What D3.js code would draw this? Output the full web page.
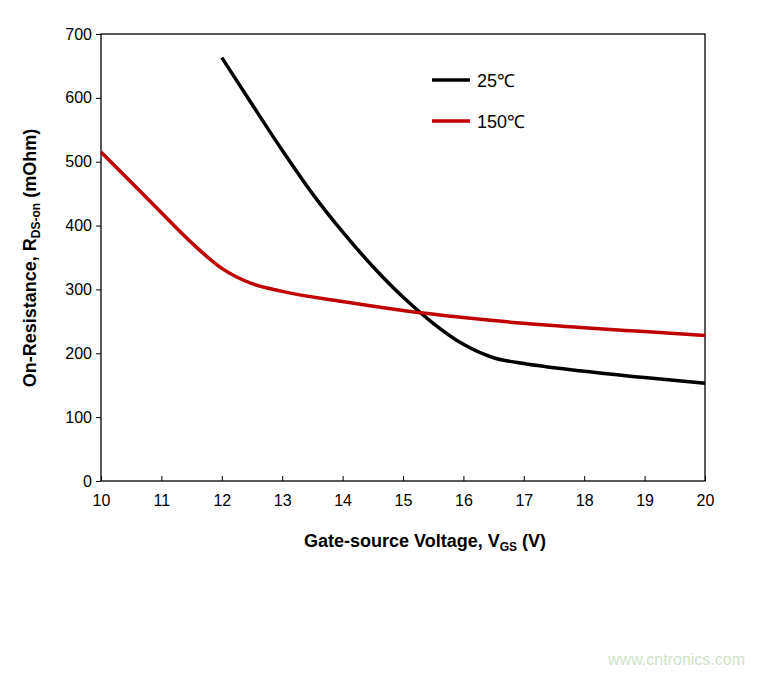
<!DOCTYPE html>
<html><head><meta charset="utf-8">
<script src="https://cdn.jsdelivr.net/npm/d3@7"></script>
<style>
body{margin:0;background:#fff;}
text{font-family:"Liberation Sans",Arial,sans-serif;}
</style></head>
<body><svg width="764" height="675"></svg>
<script>
const xTicks = [10, 11, 12, 13, 14, 15, 16, 17, 18, 19, 20];
const yTicks = [0, 100, 200, 300, 400, 500, 600, 700];
const vgs25 = [12, 12.5, 13, 13.5, 14, 14.5, 15, 15.5, 16, 16.5, 17, 18, 19, 20];
const r25 = [663, 590, 518, 450, 390, 336, 288, 247, 214, 193, 184, 172, 162, 153];
const vgs150 = [10, 10.5, 11, 11.5, 12, 12.5, 13, 14, 15, 16, 17, 18, 19, 20];
const r150 = [515, 468, 420, 373, 333, 309, 297, 281, 267, 256, 247, 240, 234, 228];
const series = [
  {name: "25℃", color: "#000000", x: vgs25, y: r25},
  {name: "150℃", color: "#c00000", x: vgs150, y: r150}
];

const svg = d3.select('svg');
const x = d3.scaleLinear().domain([10, 20]).range([101, 705]);
const y = d3.scaleLinear().domain([0, 700]).range([481, 34]);

svg.append('rect').attr('x', 101).attr('y', 34).attr('width', 604).attr('height', 447)
  .attr('fill', 'none').attr('stroke', '#000').attr('stroke-width', 1.3);

const xAxis = svg.append('g').attr('transform', 'translate(0,481)')
  .call(d3.axisBottom(x).tickValues(xTicks).tickSize(-5).tickSizeOuter(0).tickFormat(d3.format('d')));
xAxis.select('.domain').remove();
xAxis.selectAll('text').attr('font-size', 16).attr('dy', '1.35em').attr('fill', '#000');

const yAxis = svg.append('g').attr('transform', 'translate(101,0)')
  .call(d3.axisLeft(y).tickValues(yTicks).tickSize(5).tickSizeOuter(0));
yAxis.select('.domain').remove();
yAxis.selectAll('text').attr('font-size', 16).attr('fill', '#000').attr('x', -9);

const line = d3.line().curve(d3.curveMonotoneX);
series.forEach(s => {
  svg.append('path')
    .attr('d', line(s.x.map((v, i) => [x(v), y(s.y[i])])))
    .attr('fill', 'none').attr('stroke', s.color).attr('stroke-width', 3.5);
});

series.forEach((s, i) => {
  const ly = 80 + i * 41;
  svg.append('line').attr('x1', 432).attr('x2', 470).attr('y1', ly).attr('y2', ly)
    .attr('stroke', s.color).attr('stroke-width', 3.5);
  svg.append('text').attr('x', 477).attr('y', ly + 7).attr('font-size', 18).text(s.name);
});

const xl = svg.append('text').attr('x', 425).attr('y', 547).attr('text-anchor', 'middle')
  .attr('font-size', 18).attr('font-weight', 'bold');
xl.append('tspan').text('Gate-source Voltage, V');
xl.append('tspan').attr('font-size', 12).attr('dy', 4).text('GS');
xl.append('tspan').attr('dy', -4).text(' (V)');

const yl = svg.append('text').attr('transform', 'translate(36,258) rotate(-90)')
  .attr('text-anchor', 'middle').attr('font-size', 18).attr('font-weight', 'bold');
yl.append('tspan').text('On-Resistance, R');
yl.append('tspan').attr('font-size', 12).attr('dy', 4).text('DS-on');
yl.append('tspan').attr('dy', -4).text(' (mOhm)');

svg.append('text').attr('x', 745).attr('y', 665).attr('text-anchor', 'end')
  .attr('font-size', 16).attr('fill', '#cfe3c8').text('www.cntronics.com');
</script></body></html>
